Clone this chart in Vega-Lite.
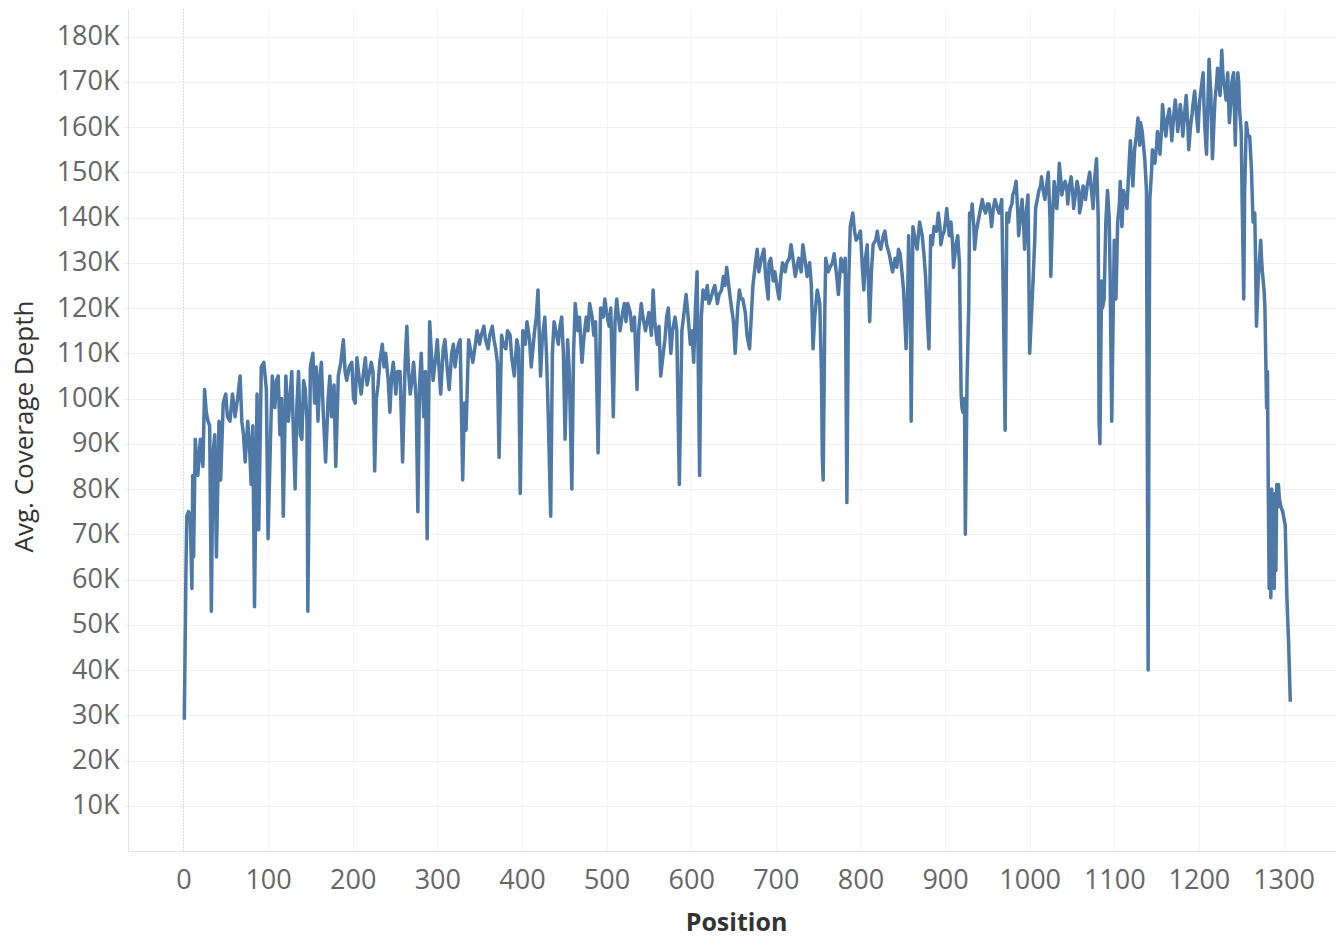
{
"$schema": "https://vega.github.io/schema/vega-lite/v6.json",
"width": 1208,
"height": 842,
"autosize": {"type": "none"},
"padding": {"left": 128, "top": 9, "right": 0, "bottom": 85},
"background": "white",
"title": {"text": "Figure S1", "anchor": "start", "frame": "group", "dx": -128, "offset": 3, "baseline": "alphabetic", "fontSize": 28, "font": "Open Sans", "fontWeight": "bold", "color": "#000000"},
"config": {"view": {"stroke": null}},
"data": {"values": [
{"position":1,"depth":29000},{"position":2,"depth":45000},{"position":3,"depth":62000},{"position":4,"depth":74000},{"position":6,"depth":75000},{"position":8,"depth":74000},{"position":10,"depth":58000},{"position":11,"depth":83000},{"position":12,"depth":65000},{"position":14,"depth":91000},{"position":17,"depth":83000},{"position":20,"depth":91000},{"position":23,"depth":85000},{"position":25,"depth":102000},{"position":27,"depth":97000},{"position":29,"depth":95000},{"position":31,"depth":94000},{"position":33,"depth":53000},{"position":35,"depth":88000},{"position":37,"depth":92000},{"position":39,"depth":65000},{"position":42,"depth":95000},{"position":44,"depth":82000},{"position":47,"depth":99000},{"position":50,"depth":101000},{"position":52,"depth":96000},{"position":55,"depth":95000},{"position":58,"depth":101000},{"position":61,"depth":96000},{"position":64,"depth":100000},{"position":67,"depth":105000},{"position":69,"depth":95000},{"position":71,"depth":92000},{"position":73,"depth":86000},{"position":76,"depth":95000},{"position":78,"depth":90000},{"position":80,"depth":81000},{"position":82,"depth":94000},{"position":84,"depth":54000},{"position":87,"depth":101000},{"position":89,"depth":71000},{"position":92,"depth":107000},{"position":95,"depth":108000},{"position":98,"depth":102000},{"position":100,"depth":69000},{"position":103,"depth":92000},{"position":105,"depth":105000},{"position":108,"depth":98000},{"position":110,"depth":104000},{"position":112,"depth":105000},{"position":114,"depth":92000},{"position":116,"depth":100000},{"position":118,"depth":74000},{"position":121,"depth":105000},{"position":124,"depth":95000},{"position":126,"depth":100000},{"position":128,"depth":106000},{"position":130,"depth":92000},{"position":132,"depth":80000},{"position":134,"depth":98000},{"position":136,"depth":106000},{"position":138,"depth":92000},{"position":140,"depth":91000},{"position":142,"depth":104000},{"position":144,"depth":102000},{"position":146,"depth":95000},{"position":147,"depth":53000},{"position":150,"depth":107000},{"position":153,"depth":110000},{"position":155,"depth":99000},{"position":157,"depth":107000},{"position":159,"depth":95000},{"position":161,"depth":104000},{"position":163,"depth":108000},{"position":165,"depth":98000},{"position":168,"depth":86000},{"position":171,"depth":100000},{"position":173,"depth":105000},{"position":175,"depth":96000},{"position":178,"depth":103000},{"position":180,"depth":85000},{"position":183,"depth":105000},{"position":186,"depth":108000},{"position":189,"depth":113000},{"position":191,"depth":106000},{"position":193,"depth":104000},{"position":196,"depth":107000},{"position":199,"depth":108000},{"position":201,"depth":100000},{"position":203,"depth":99000},{"position":205,"depth":109000},{"position":208,"depth":104000},{"position":210,"depth":101000},{"position":213,"depth":106000},{"position":215,"depth":109000},{"position":217,"depth":103000},{"position":219,"depth":105000},{"position":222,"depth":108000},{"position":224,"depth":106000},{"position":226,"depth":84000},{"position":228,"depth":100000},{"position":230,"depth":103000},{"position":232,"depth":108000},{"position":235,"depth":112000},{"position":237,"depth":107000},{"position":239,"depth":110000},{"position":242,"depth":104000},{"position":244,"depth":97000},{"position":246,"depth":105000},{"position":248,"depth":108000},{"position":251,"depth":101000},{"position":253,"depth":106000},{"position":256,"depth":106000},{"position":259,"depth":86000},{"position":262,"depth":108000},{"position":264,"depth":116000},{"position":266,"depth":106000},{"position":268,"depth":101000},{"position":270,"depth":104000},{"position":272,"depth":108000},{"position":275,"depth":100000},{"position":277,"depth":75000},{"position":279,"depth":103000},{"position":281,"depth":110000},{"position":284,"depth":96000},{"position":286,"depth":106000},{"position":288,"depth":69000},{"position":291,"depth":117000},{"position":293,"depth":110000},{"position":295,"depth":104000},{"position":298,"depth":109000},{"position":300,"depth":113000},{"position":302,"depth":107000},{"position":304,"depth":101000},{"position":307,"depth":111000},{"position":309,"depth":113000},{"position":312,"depth":106000},{"position":314,"depth":102000},{"position":317,"depth":110000},{"position":319,"depth":112000},{"position":321,"depth":107000},{"position":323,"depth":110000},{"position":325,"depth":112000},{"position":327,"depth":113000},{"position":330,"depth":82000},{"position":332,"depth":99000},{"position":334,"depth":93000},{"position":337,"depth":113000},{"position":340,"depth":110000},{"position":342,"depth":108000},{"position":345,"depth":112000},{"position":347,"depth":115000},{"position":350,"depth":112000},{"position":352,"depth":114000},{"position":355,"depth":116000},{"position":357,"depth":113000},{"position":360,"depth":111000},{"position":362,"depth":114000},{"position":365,"depth":116000},{"position":367,"depth":113000},{"position":369,"depth":111000},{"position":371,"depth":108000},{"position":373,"depth":87000},{"position":376,"depth":114000},{"position":378,"depth":112000},{"position":381,"depth":111000},{"position":383,"depth":115000},{"position":386,"depth":114000},{"position":388,"depth":109000},{"position":391,"depth":105000},{"position":394,"depth":113000},{"position":396,"depth":111000},{"position":398,"depth":79000},{"position":401,"depth":115000},{"position":404,"depth":112000},{"position":406,"depth":117000},{"position":409,"depth":113000},{"position":411,"depth":107000},{"position":413,"depth":111000},{"position":415,"depth":115000},{"position":417,"depth":118000},{"position":419,"depth":124000},{"position":422,"depth":105000},{"position":424,"depth":113000},{"position":427,"depth":118000},{"position":429,"depth":110000},{"position":431,"depth":97000},{"position":434,"depth":74000},{"position":436,"depth":110000},{"position":438,"depth":117000},{"position":441,"depth":114000},{"position":443,"depth":112000},{"position":445,"depth":116000},{"position":447,"depth":118000},{"position":449,"depth":110000},{"position":451,"depth":91000},{"position":454,"depth":113000},{"position":456,"depth":106000},{"position":459,"depth":80000},{"position":461,"depth":110000},{"position":463,"depth":121000},{"position":466,"depth":115000},{"position":468,"depth":118000},{"position":471,"depth":108000},{"position":473,"depth":113000},{"position":476,"depth":118000},{"position":478,"depth":115000},{"position":480,"depth":121000},{"position":483,"depth":118000},{"position":485,"depth":114000},{"position":487,"depth":117000},{"position":490,"depth":88000},{"position":493,"depth":120000},{"position":496,"depth":118000},{"position":498,"depth":122000},{"position":500,"depth":119000},{"position":503,"depth":116000},{"position":505,"depth":120000},{"position":508,"depth":96000},{"position":510,"depth":117000},{"position":512,"depth":122000},{"position":514,"depth":118000},{"position":516,"depth":115000},{"position":519,"depth":119000},{"position":521,"depth":121000},{"position":523,"depth":117000},{"position":525,"depth":121000},{"position":528,"depth":119000},{"position":530,"depth":115000},{"position":533,"depth":118000},{"position":536,"depth":102000},{"position":538,"depth":115000},{"position":541,"depth":121000},{"position":543,"depth":118000},{"position":546,"depth":115000},{"position":548,"depth":117000},{"position":550,"depth":119000},{"position":553,"depth":114000},{"position":555,"depth":124000},{"position":557,"depth":117000},{"position":560,"depth":112000},{"position":562,"depth":116000},{"position":564,"depth":105000},{"position":567,"depth":110000},{"position":569,"depth":113000},{"position":571,"depth":118000},{"position":573,"depth":120000},{"position":576,"depth":110000},{"position":578,"depth":115000},{"position":581,"depth":118000},{"position":583,"depth":115000},{"position":586,"depth":81000},{"position":589,"depth":115000},{"position":591,"depth":118000},{"position":594,"depth":123000},{"position":596,"depth":119000},{"position":599,"depth":112000},{"position":601,"depth":115000},{"position":603,"depth":108000},{"position":605,"depth":120000},{"position":607,"depth":128000},{"position":610,"depth":83000},{"position":612,"depth":118000},{"position":614,"depth":124000},{"position":617,"depth":122000},{"position":619,"depth":125000},{"position":621,"depth":121000},{"position":623,"depth":122000},{"position":626,"depth":124000},{"position":628,"depth":125000},{"position":631,"depth":121000},{"position":633,"depth":123000},{"position":636,"depth":124000},{"position":638,"depth":127000},{"position":640,"depth":125000},{"position":642,"depth":129000},{"position":645,"depth":124000},{"position":647,"depth":121000},{"position":650,"depth":117000},{"position":652,"depth":110000},{"position":655,"depth":120000},{"position":657,"depth":124000},{"position":659,"depth":122000},{"position":661,"depth":122000},{"position":664,"depth":119000},{"position":666,"depth":114000},{"position":669,"depth":111000},{"position":671,"depth":118000},{"position":673,"depth":125000},{"position":676,"depth":130000},{"position":678,"depth":133000},{"position":680,"depth":128000},{"position":683,"depth":131000},{"position":686,"depth":133000},{"position":688,"depth":127000},{"position":691,"depth":122000},{"position":692,"depth":130000},{"position":694,"depth":131000},{"position":697,"depth":126000},{"position":699,"depth":128000},{"position":702,"depth":124000},{"position":704,"depth":122000},{"position":706,"depth":127000},{"position":708,"depth":130000},{"position":711,"depth":128000},{"position":713,"depth":130000},{"position":716,"depth":131000},{"position":718,"depth":134000},{"position":721,"depth":130000},{"position":723,"depth":127000},{"position":725,"depth":129000},{"position":727,"depth":131000},{"position":730,"depth":128000},{"position":732,"depth":134000},{"position":735,"depth":130000},{"position":737,"depth":127000},{"position":740,"depth":130000},{"position":742,"depth":125000},{"position":744,"depth":111000},{"position":746,"depth":118000},{"position":749,"depth":124000},{"position":752,"depth":121000},{"position":754,"depth":105000},{"position":755,"depth":87000},{"position":756,"depth":82000},{"position":758,"depth":120000},{"position":759,"depth":131000},{"position":762,"depth":128000},{"position":764,"depth":129000},{"position":767,"depth":130000},{"position":769,"depth":132000},{"position":772,"depth":127000},{"position":774,"depth":123000},{"position":777,"depth":131000},{"position":780,"depth":128000},{"position":782,"depth":131000},{"position":784,"depth":77000},{"position":786,"depth":125000},{"position":788,"depth":138000},{"position":791,"depth":141000},{"position":793,"depth":137000},{"position":795,"depth":135000},{"position":798,"depth":136000},{"position":800,"depth":137000},{"position":802,"depth":130000},{"position":804,"depth":124000},{"position":806,"depth":131000},{"position":808,"depth":134000},{"position":811,"depth":117000},{"position":813,"depth":128000},{"position":815,"depth":134000},{"position":818,"depth":135000},{"position":820,"depth":137000},{"position":822,"depth":134000},{"position":824,"depth":133000},{"position":827,"depth":136000},{"position":829,"depth":137000},{"position":831,"depth":134000},{"position":834,"depth":132000},{"position":836,"depth":130000},{"position":838,"depth":128000},{"position":841,"depth":131000},{"position":843,"depth":129000},{"position":845,"depth":133000},{"position":847,"depth":132000},{"position":849,"depth":128000},{"position":851,"depth":124000},{"position":854,"depth":111000},{"position":856,"depth":125000},{"position":857,"depth":136000},{"position":859,"depth":120000},{"position":860,"depth":95000},{"position":862,"depth":138000},{"position":865,"depth":135000},{"position":867,"depth":133000},{"position":869,"depth":137000},{"position":870,"depth":139000},{"position":873,"depth":136000},{"position":875,"depth":132000},{"position":877,"depth":127000},{"position":879,"depth":118000},{"position":881,"depth":111000},{"position":883,"depth":136000},{"position":885,"depth":134000},{"position":887,"depth":138000},{"position":890,"depth":137000},{"position":892,"depth":141000},{"position":894,"depth":138000},{"position":895,"depth":134000},{"position":897,"depth":136000},{"position":899,"depth":137000},{"position":901,"depth":140000},{"position":902,"depth":142000},{"position":905,"depth":136000},{"position":907,"depth":139000},{"position":909,"depth":134000},{"position":910,"depth":129000},{"position":913,"depth":134000},{"position":915,"depth":136000},{"position":917,"depth":130000},{"position":919,"depth":101000},{"position":920,"depth":98000},{"position":921,"depth":97000},{"position":923,"depth":100000},{"position":924,"depth":70000},{"position":926,"depth":104000},{"position":928,"depth":120000},{"position":929,"depth":141000},{"position":931,"depth":140000},{"position":932,"depth":143000},{"position":934,"depth":138000},{"position":935,"depth":133000},{"position":937,"depth":137000},{"position":939,"depth":139000},{"position":942,"depth":142000},{"position":944,"depth":144000},{"position":946,"depth":142000},{"position":948,"depth":141000},{"position":950,"depth":143000},{"position":952,"depth":143000},{"position":954,"depth":140000},{"position":955,"depth":138000},{"position":957,"depth":142000},{"position":959,"depth":144000},{"position":962,"depth":142000},{"position":964,"depth":141000},{"position":966,"depth":143000},{"position":967,"depth":144000},{"position":969,"depth":120000},{"position":971,"depth":93000},{"position":973,"depth":141000},{"position":975,"depth":139000},{"position":977,"depth":142000},{"position":979,"depth":143000},{"position":980,"depth":145000},{"position":982,"depth":146000},{"position":984,"depth":148000},{"position":986,"depth":141000},{"position":987,"depth":136000},{"position":989,"depth":140000},{"position":991,"depth":144000},{"position":993,"depth":138000},{"position":994,"depth":133000},{"position":996,"depth":141000},{"position":998,"depth":145000},{"position":1000,"depth":110000},{"position":1002,"depth":118000},{"position":1004,"depth":126000},{"position":1006,"depth":135000},{"position":1007,"depth":142000},{"position":1009,"depth":144000},{"position":1011,"depth":146000},{"position":1013,"depth":147000},{"position":1014,"depth":149000},{"position":1016,"depth":146000},{"position":1018,"depth":144000},{"position":1020,"depth":147000},{"position":1022,"depth":150000},{"position":1024,"depth":140000},{"position":1025,"depth":127000},{"position":1027,"depth":140000},{"position":1029,"depth":148000},{"position":1031,"depth":145000},{"position":1032,"depth":142000},{"position":1034,"depth":147000},{"position":1035,"depth":152000},{"position":1037,"depth":148000},{"position":1038,"depth":145000},{"position":1040,"depth":147000},{"position":1042,"depth":148000},{"position":1044,"depth":146000},{"position":1045,"depth":143000},{"position":1047,"depth":147000},{"position":1049,"depth":149000},{"position":1051,"depth":145000},{"position":1052,"depth":142000},{"position":1054,"depth":145000},{"position":1056,"depth":148000},{"position":1058,"depth":146000},{"position":1059,"depth":141000},{"position":1061,"depth":143000},{"position":1063,"depth":147000},{"position":1065,"depth":146000},{"position":1066,"depth":144000},{"position":1068,"depth":147000},{"position":1071,"depth":150000},{"position":1073,"depth":146000},{"position":1075,"depth":142000},{"position":1077,"depth":149000},{"position":1079,"depth":153000},{"position":1081,"depth":140000},{"position":1082,"depth":95000},{"position":1083,"depth":90000},{"position":1085,"depth":126000},{"position":1086,"depth":120000},{"position":1088,"depth":122000},{"position":1090,"depth":139000},{"position":1092,"depth":146000},{"position":1094,"depth":140000},{"position":1095,"depth":128000},{"position":1097,"depth":95000},{"position":1098,"depth":110000},{"position":1100,"depth":135000},{"position":1102,"depth":122000},{"position":1104,"depth":139000},{"position":1106,"depth":143000},{"position":1107,"depth":148000},{"position":1109,"depth":138000},{"position":1111,"depth":146000},{"position":1113,"depth":144000},{"position":1115,"depth":142000},{"position":1117,"depth":150000},{"position":1119,"depth":157000},{"position":1121,"depth":150000},{"position":1122,"depth":147000},{"position":1124,"depth":155000},{"position":1126,"depth":158000},{"position":1128,"depth":162000},{"position":1130,"depth":156000},{"position":1131,"depth":161000},{"position":1133,"depth":159000},{"position":1135,"depth":155000},{"position":1136,"depth":153000},{"position":1138,"depth":146000},{"position":1139,"depth":91000},{"position":1140,"depth":40000},{"position":1141,"depth":100000},{"position":1142,"depth":144000},{"position":1144,"depth":150000},{"position":1145,"depth":155000},{"position":1147,"depth":153000},{"position":1148,"depth":152000},{"position":1150,"depth":156000},{"position":1151,"depth":159000},{"position":1153,"depth":157000},{"position":1154,"depth":154000},{"position":1156,"depth":160000},{"position":1157,"depth":165000},{"position":1159,"depth":161000},{"position":1161,"depth":158000},{"position":1163,"depth":162000},{"position":1165,"depth":164000},{"position":1167,"depth":160000},{"position":1168,"depth":157000},{"position":1170,"depth":162000},{"position":1172,"depth":166000},{"position":1174,"depth":162000},{"position":1175,"depth":159000},{"position":1177,"depth":163000},{"position":1178,"depth":165000},{"position":1180,"depth":161000},{"position":1181,"depth":158000},{"position":1183,"depth":163000},{"position":1185,"depth":167000},{"position":1187,"depth":160000},{"position":1188,"depth":155000},{"position":1190,"depth":160000},{"position":1192,"depth":163000},{"position":1193,"depth":165000},{"position":1195,"depth":168000},{"position":1197,"depth":163000},{"position":1199,"depth":159000},{"position":1200,"depth":163000},{"position":1201,"depth":166000},{"position":1203,"depth":169000},{"position":1205,"depth":172000},{"position":1206,"depth":165000},{"position":1207,"depth":160000},{"position":1209,"depth":154000},{"position":1211,"depth":168000},{"position":1212,"depth":175000},{"position":1213,"depth":171000},{"position":1214,"depth":168000},{"position":1215,"depth":160000},{"position":1216,"depth":153000},{"position":1218,"depth":162000},{"position":1219,"depth":166000},{"position":1221,"depth":170000},{"position":1222,"depth":173000},{"position":1224,"depth":169000},{"position":1225,"depth":167000},{"position":1226,"depth":172000},{"position":1227,"depth":177000},{"position":1228,"depth":173000},{"position":1229,"depth":170000},{"position":1231,"depth":168000},{"position":1232,"depth":166000},{"position":1233,"depth":169000},{"position":1234,"depth":172000},{"position":1235,"depth":166000},{"position":1236,"depth":161000},{"position":1238,"depth":166000},{"position":1239,"depth":170000},{"position":1240,"depth":171000},{"position":1241,"depth":172000},{"position":1242,"depth":164000},{"position":1243,"depth":156000},{"position":1244,"depth":165000},{"position":1246,"depth":172000},{"position":1247,"depth":170000},{"position":1248,"depth":164000},{"position":1250,"depth":159000},{"position":1251,"depth":145000},{"position":1253,"depth":122000},{"position":1254,"depth":145000},{"position":1256,"depth":161000},{"position":1258,"depth":158000},{"position":1260,"depth":158000},{"position":1262,"depth":151000},{"position":1263,"depth":145000},{"position":1264,"depth":139000},{"position":1266,"depth":141000},{"position":1267,"depth":130000},{"position":1268,"depth":116000},{"position":1270,"depth":126000},{"position":1271,"depth":129000},{"position":1273,"depth":135000},{"position":1274,"depth":131000},{"position":1275,"depth":128000},{"position":1277,"depth":124000},{"position":1278,"depth":120000},{"position":1280,"depth":98000},{"position":1281,"depth":106000},{"position":1282,"depth":79000},{"position":1283,"depth":58000},{"position":1284,"depth":78000},{"position":1285,"depth":56000},{"position":1286,"depth":80000},{"position":1287,"depth":60000},{"position":1288,"depth":77000},{"position":1289,"depth":58000},{"position":1290,"depth":79000},{"position":1291,"depth":62000},{"position":1292,"depth":81000},{"position":1293,"depth":76000},{"position":1294,"depth":81000},{"position":1295,"depth":78000},{"position":1297,"depth":76000},{"position":1299,"depth":75000},{"position":1302,"depth":72000},{"position":1304,"depth":56000},{"position":1306,"depth":46000},{"position":1308,"depth":33000}
]},
"mark": {"type": "line", "color": "#4e79a7", "strokeWidth": 3.5, "strokeJoin": "round"},
"encoding": {
  "x": {
    "field": "position", "type": "quantitative",
    "scale": {"domain": [-65.5, 1362], "nice": false, "zero": false},
    "axis": {
      "values": [0,100,200,300,400,500,600,700,800,900,1000,1100,1200,1300],
      "format": "d",
      "labelFont": "Open Sans", "labelFontSize": 27, "labelColor": "#666666",
      "labelBaseline": "alphabetic", "labelPadding": 37,
      "ticks": true, "tickSize": 0,
      "grid": true,
      "gridColor": {"condition": {"test": "datum.value === 0", "value": "#b8b8b8"}, "value": "#f0f0f0"},
      "gridDash": {"condition": {"test": "datum.value === 0", "value": [1, 2]}, "value": [1, 0]},
      "domainColor": "#e4e4e4",
      "title": "Position",
      "titleFont": "Open Sans", "titleFontSize": 25, "titleFontWeight": "bold", "titleColor": "#333333",
      "titleBaseline": "alphabetic", "titleY": 79, "titleX": 608
    }
  },
  "y": {
    "field": "depth", "type": "quantitative",
    "scale": {"domain": [0, 186100], "nice": false},
    "axis": {
      "values": [10000,20000,30000,40000,50000,60000,70000,80000,90000,100000,110000,120000,130000,140000,150000,160000,170000,180000],
      "labelExpr": "(datum.value / 1000) + 'K'",
      "labelFont": "Open Sans", "labelFontSize": 27, "labelColor": "#666666",
      "labelPadding": 4, "tickSize": 5, "tickColor": "#f0f0f0",
      "grid": true, "gridColor": "#f0f0f0",
      "domainColor": "#e4e4e4",
      "title": "Avg. Coverage Depth",
      "titleFont": "Open Sans", "titleFontSize": 26, "titleFontWeight": "normal", "titleColor": "#333333",
      "titleAngle": -90, "titleAlign": "center", "titleBaseline": "middle",
      "titleX": -104, "titleY": 417
    }
  }
}
}
